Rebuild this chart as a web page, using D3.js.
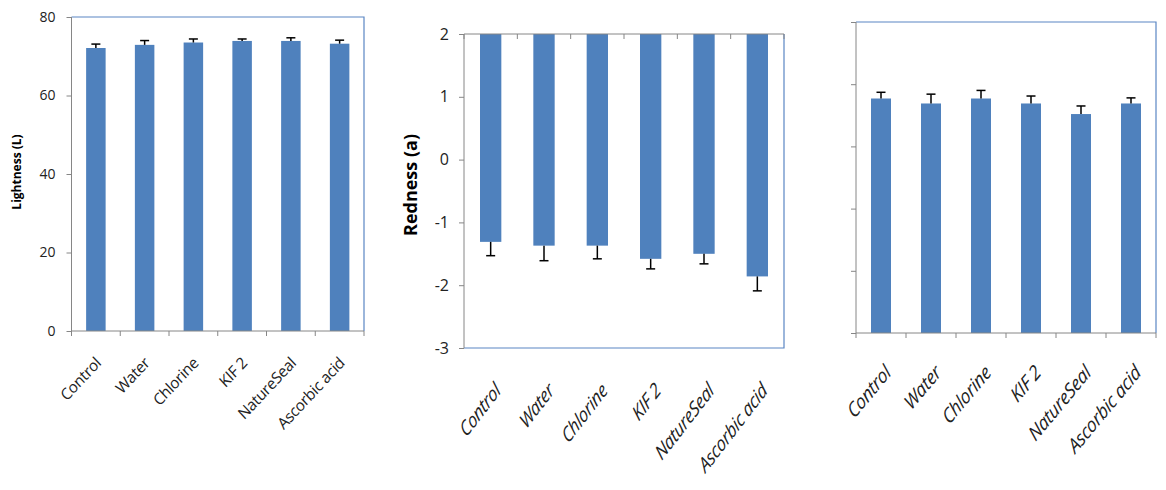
<!DOCTYPE html>
<html>
<head>
<meta charset="utf-8">
<script src="https://cdn.jsdelivr.net/npm/d3@7"></script>
<style>
  body { margin: 0; background: #fff; }
  svg { display: block; font-family: "Open Sans", sans-serif; }
</style>
</head>
<body>
<div id="chart"></div>
<script>
let wSvg = 1166; let hSvg = 490;

let barColor = "#4F81BD";
let frameColor = "#5A86C3";
let axisColor = "#868686";

// data
const categories = ["Control", "Water", "Chlorine", "KIF 2", "NatureSeal", "Ascorbic acid"];

const lightness = [72.1, 72.9, 73.5, 73.9, 73.9, 73.2];
const lightnessErr = [1.0, 1.1, 0.9, 0.5, 0.8, 0.9];
const lightnessTicks = [0, 20, 40, 60, 80];

const redness = [-1.31, -1.37, -1.37, -1.58, -1.50, -1.86];
const rednessErr = [0.22, 0.24, 0.21, 0.16, 0.16, 0.23];
const rednessTicks = [-3, -2, -1, 0, 1, 2];

const third = [3.77, 3.69, 3.77, 3.69, 3.52, 3.69];
const thirdErr = [0.10, 0.15, 0.13, 0.12, 0.13, 0.09];
const thirdTicks = [0, 1, 2, 3, 4, 5];

let svg = d3.select("#chart")
    .append("svg")
    .attr("width", wSvg)
    .attr("height", hSvg);

// the three panels were pasted at slightly different scales, hence the stretch values
const panels = [
    { x0: 71.5, x1: 364, y0: 17, y1: 331, domain: [0, 80], base: 0, ticks: lightnessTicks, values: lightness, errs: lightnessErr,
      showTickLabels: true, tickFont: 14, tickPad: 11, labelFont: 15, italic: false, stretch: 1.07, labelDx: 6, labelDy: 33,
      title: "Lightness (L)", titleX: 17, titleY: 172, titleFont: 12, frame: "topright" },
    { x0: 464, x1: 784, y0: 34, y1: 348, domain: [-3, 2], base: 2, ticks: rednessTicks, values: redness, errs: rednessErr,
      showTickLabels: true, tickFont: 16, tickPad: 10, labelFont: 16, italic: true, stretch: 1.3, labelDx: 11, labelDy: 44,
      title: "Redness (a)", titleX: 411, titleY: 185, titleFont: 18, frame: "bottomright" },
    { x0: 856, x1: 1156, y0: 22, y1: 333, domain: [0, 5], base: 0, ticks: thirdTicks, values: third, errs: thirdErr,
      showTickLabels: false, tickFont: 14, tickPad: 10, labelFont: 17, italic: true, stretch: 1.2, labelDx: 11, labelDy: 41,
      title: null, frame: "topright" }
];

panels.forEach(p => drawPanel(p));

function drawPanel(p) {
    const xScale = d3.scaleBand()
        .domain(categories)
        .range([p.x0, p.x1])
        .paddingInner(0.6)
        .paddingOuter(0.3);

    const yScale = d3.scaleLinear()
        .domain(p.domain)
        .range([p.y1, p.y0]);

    const g = svg.append("g");

    // blue frame lines
    if (p.frame === "topright") {
        g.append("path")
            .attr("d", `M${p.x0},${p.y0}H${p.x1}V${p.y1}`)
            .attr("fill", "none").attr("stroke", frameColor).attr("stroke-width", 1.2);
    } else {
        g.append("path")
            .attr("d", `M${p.x0},${p.y1}H${p.x1}V${p.y0}`)
            .attr("fill", "none").attr("stroke", frameColor).attr("stroke-width", 1.2);
    }

    // bars, from the base value to the data value
    g.selectAll("rect.bar")
        .data(categories)
        .enter()
        .append("rect")
        .attr("class", "bar")
        .attr("x", (d, i) => xScale(d))
        .attr("width", xScale.bandwidth())
        .attr("y", (d, i) => Math.min(yScale(p.values[i]), yScale(p.base)))
        .attr("height", (d, i) => Math.abs(yScale(p.values[i]) - yScale(p.base)))
        .attr("fill", barColor);

    // error bars, pointing away from the base
    const errEnd = i => p.values[i] + (p.values[i] < p.base ? -1 : 1) * p.errs[i];
    const cx = d => xScale(d) + xScale.bandwidth() / 2;
    const err = g.append("g").attr("stroke", "#000").attr("stroke-width", 1.5);
    err.selectAll("line.stem")
        .data(categories)
        .enter()
        .append("line")
        .attr("x1", cx).attr("x2", cx)
        .attr("y1", (d, i) => yScale(p.values[i]))
        .attr("y2", (d, i) => yScale(errEnd(i)));
    err.selectAll("line.cap")
        .data(categories)
        .enter()
        .append("line")
        .attr("x1", d => cx(d) - 4.5).attr("x2", d => cx(d) + 4.5)
        .attr("y1", (d, i) => yScale(errEnd(i)))
        .attr("y2", (d, i) => yScale(errEnd(i)));

    // y axis (plain hyphen for negatives, like the original)
    const axisLeft = d3.axisLeft(yScale)
        .tickValues(p.ticks)
        .tickSize(5)
        .tickPadding(p.tickPad)
        .tickFormat(p.showTickLabels ? (d => String(d)) : "");
    const ya = g.append("g")
        .attr("transform", `translate(${p.x0}, 0)`)
        .call(axisLeft)
        .style("font-family", "'Open Sans', sans-serif")
        .style("font-size", p.tickFont + "px");
    ya.select(".domain").attr("stroke", axisColor).attr("d", `M0,${p.y0}V${p.y1}`);
    ya.selectAll(".tick line").attr("stroke", axisColor);
    ya.selectAll(".tick text").attr("fill", "#222");

    // category axis sits at the base value
    const baseY = yScale(p.base);
    const step = xScale.step();
    g.append("line")
        .attr("x1", p.x0).attr("x2", p.x1)
        .attr("y1", baseY).attr("y2", baseY)
        .attr("stroke", axisColor);
    g.selectAll("line.ctick")
        .data(d3.range(categories.length + 1))
        .enter()
        .append("line")
        .attr("x1", i => p.x0 + i * step).attr("x2", i => p.x0 + i * step)
        .attr("y1", baseY).attr("y2", baseY + 5)
        .attr("stroke", axisColor);

    // rotated category labels below the plot
    g.selectAll("text.cat")
        .data(categories)
        .enter()
        .append("text")
        .attr("text-anchor", "end")
        .attr("transform", d => `translate(${cx(d) + p.labelDx}, ${p.y1 + p.labelDy}) scale(1, ${p.stretch}) rotate(-45)`)
        .style("font-size", p.labelFont + "px")
        .style("font-style", p.italic ? "italic" : "normal")
        .style("letter-spacing", "-0.3px")
        .attr("fill", "#222")
        .text(d => d);

    if (p.title) {
        g.append("text")
            .attr("text-anchor", "middle")
            .attr("transform", `translate(${p.titleX}, ${p.titleY}) rotate(-90)`)
            .attr("dy", "0.35em")
            .style("font-size", p.titleFont + "px")
            .style("font-weight", "bold")
            .attr("fill", "#000")
            .text(p.title);
    }
}
</script>
</body>
</html>
